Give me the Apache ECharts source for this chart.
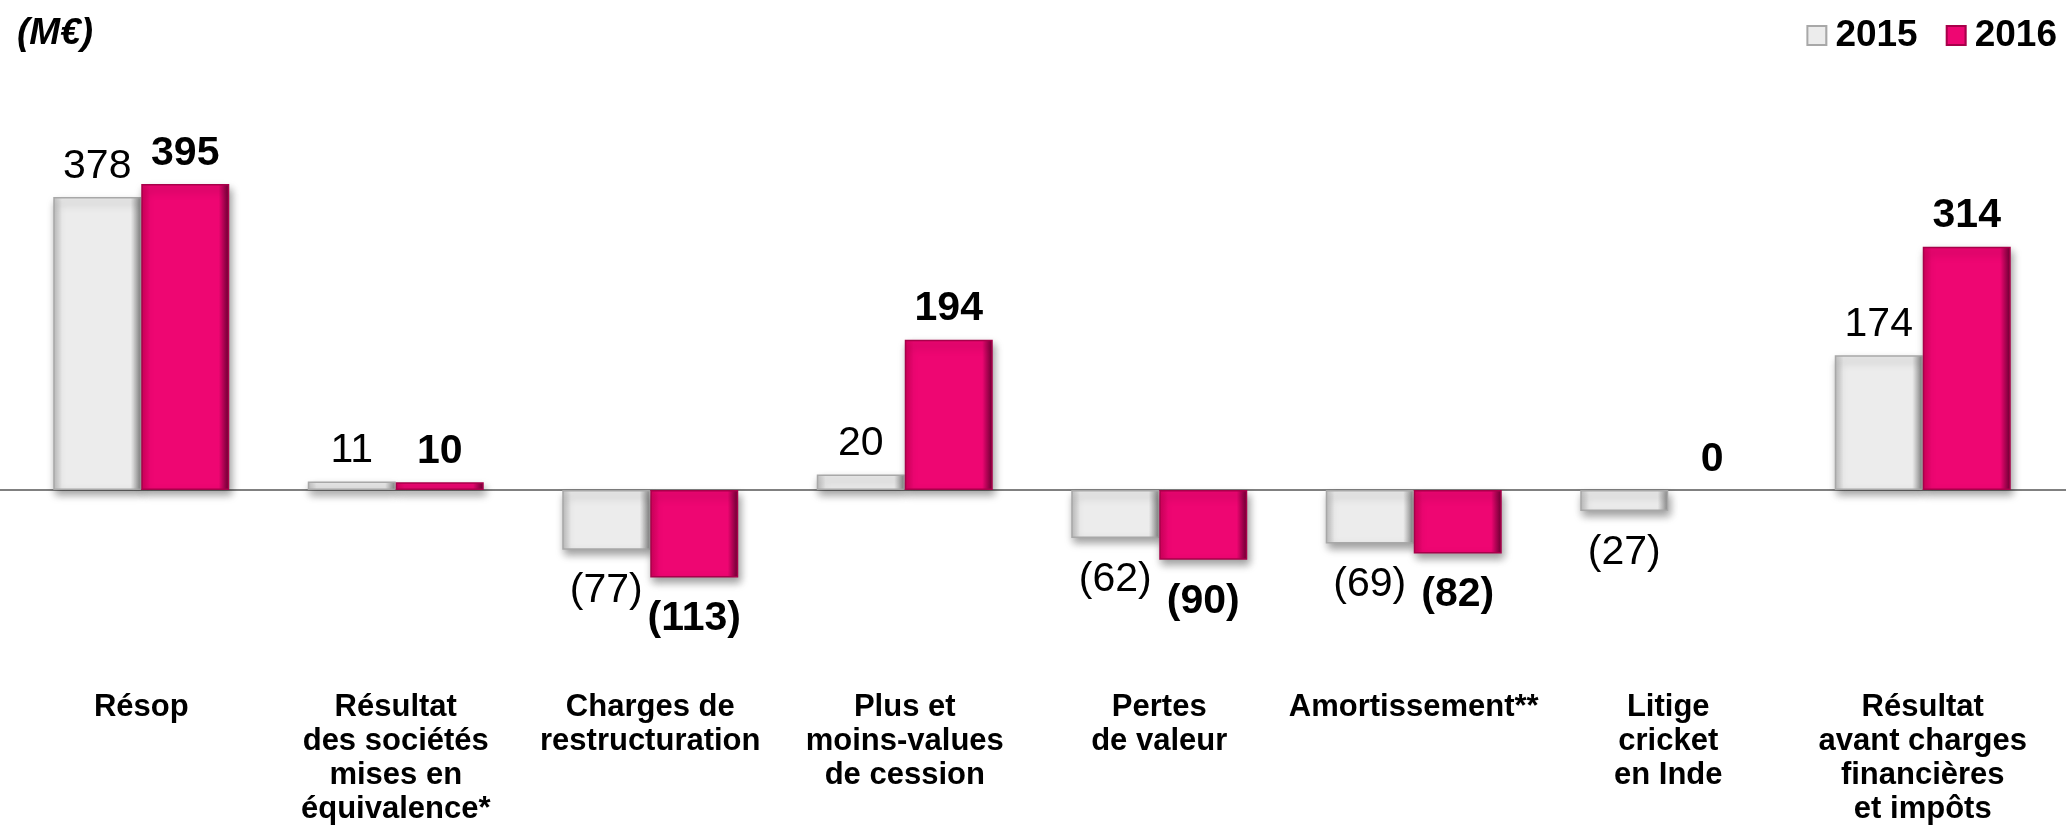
<!DOCTYPE html>
<html>
<head>
<meta charset="utf-8">
<script src="https://cdn.jsdelivr.net/npm/echarts@6/dist/echarts.min.js"></script>
<style>
html,body{margin:0;padding:0;background:#fff;}
#chart{width:2066px;height:828px;}
</style>
</head>
<body>
<div id="chart"></div>
<script>
const categories = [
  'Résop',
  'Résultat\ndes sociétés\nmises en\néquivalence*',
  'Charges de\nrestructuration',
  'Plus et\nmoins-values\nde cession',
  'Pertes\nde valeur',
  'Amortissement**',
  'Litige\ncricket\nen Inde',
  'Résultat\navant charges\nfinancières\net impôts'
];
const seriesNames = ['2015', '2016'];
const values2015 = [378, 11, -77, 20, -62, -69, -27, 174];
const values2016 = [395, 10, -113, 194, -90, -82, 0, 314];
const labels2015 = ['378', '11', '(77)', '20', '(62)', '(69)', '(27)', '174'];
const labels2016 = ['395', '10', '(113)', '194', '(90)', '(82)', '0', '314'];
const unitLabel = '(M€)';

const FONT = '"Liberation Sans", Arial, sans-serif';

function grad(edgeL, face, edgeR) {
  return new echarts.graphic.LinearGradient(0, 0, 1, 0, [
    { offset: 0, color: edgeL },
    { offset: 0.1, color: face },
    { offset: 0.88, color: face },
    { offset: 1, color: edgeR }
  ]);
}

function items(values) {
  return values.map(v => {
    const it = {
      value: v,
      label: { position: v === 0 ? 'top' : 'outside', distance: v < 0 ? 21 : 10 }
    };
    if (v === 0) {
      it.itemStyle = { color: 'rgba(0,0,0,0)', borderWidth: 0, shadowBlur: 0, shadowColor: 'rgba(0,0,0,0)', shadowOffsetX: 0, shadowOffsetY: 0 };
    }
    return it;
  });
}

const chart = echarts.init(document.getElementById('chart'));
chart.setOption({
  animation: false,
  title: {
    text: unitLabel, left: 12, top: 10,
    textStyle: { fontFamily: FONT, fontSize: 37, fontWeight: 'bold', fontStyle: 'italic', color: '#000' }
  },
  legend: {
    data: seriesNames, right: 4, top: 12,
    icon: 'rect', itemWidth: 19, itemHeight: 19, itemGap: 28,
    textStyle: { fontFamily: FONT, fontSize: 37, fontWeight: 'bold', color: '#000', padding: [0, 0, 0, 4] }
  },
  grid: [
    { left: 14, right: 16, top: 180, height: 465 },
    { left: 0, right: 0, top: 180, height: 465 }
  ],
  xAxis: [
    {
      type: 'category', data: categories, gridIndex: 0,
      axisLine: { show: false, onZero: false }, axisTick: { show: false },
      axisLabel: { margin: 45, fontFamily: FONT, fontSize: 31, fontWeight: 'bold', color: '#000', lineHeight: 34, interval: 0 }
    },
    {
      type: 'value', gridIndex: 1, min: 0, max: 1,
      axisLine: { show: true, onZero: true, lineStyle: { color: '#808080', width: 2 } },
      axisTick: { show: false }, axisLabel: { show: false }, splitLine: { show: false }
    }
  ],
  yAxis: [
    { type: 'value', gridIndex: 0, min: -200, max: 400, show: false, splitLine: { show: false } },
    { type: 'value', gridIndex: 1, min: -200, max: 400, show: false, splitLine: { show: false } }
  ],
  series: [
    {
      name: seriesNames[0], type: 'bar', xAxisIndex: 0, yAxisIndex: 0,
      barWidth: 88, barGap: '0%',
      data: items(values2015),
      itemStyle: {
        color: grad('#c0c0c0', '#ececec', '#8a8a8a'),
        borderColor: '#a8a8a8', borderWidth: 1.5,
        shadowColor: 'rgba(0,0,0,0.38)', shadowBlur: 8, shadowOffsetX: 2, shadowOffsetY: 5
      },
      label: {
        show: true, fontFamily: FONT, fontSize: 41, color: '#000',
        formatter: p => labels2015[p.dataIndex]
      }
    },
    {
      name: seriesNames[1], type: 'bar', xAxisIndex: 0, yAxisIndex: 0,
      barWidth: 88, barGap: '0%',
      data: items(values2016),
      itemStyle: {
        color: grad('#d4005c', '#ee0672', '#6a0032'),
        borderColor: '#a8004a', borderWidth: 1.5,
        shadowColor: 'rgba(0,0,0,0.38)', shadowBlur: 8, shadowOffsetX: 2, shadowOffsetY: 5
      },
      label: {
        show: true, fontFamily: FONT, fontSize: 41, fontWeight: 'bold', color: '#000',
        formatter: p => labels2016[p.dataIndex]
      }
    }
  ]
});
</script>
</body>
</html>
